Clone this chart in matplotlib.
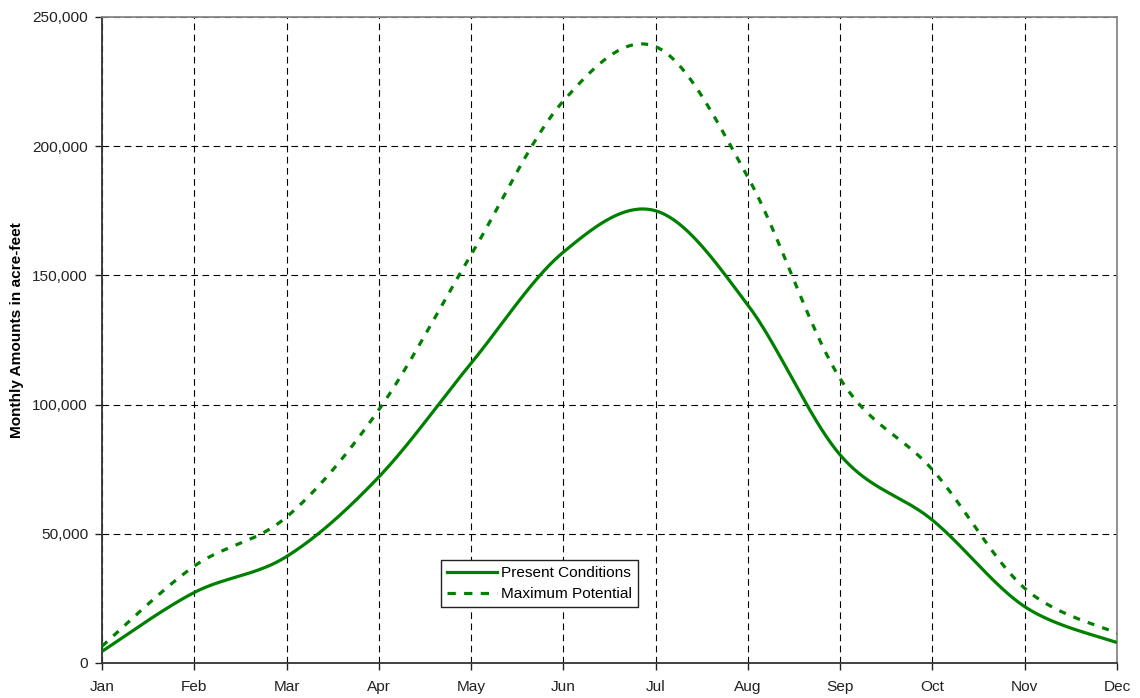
import numpy as np
import matplotlib
matplotlib.use("Agg")
import matplotlib.pyplot as plt
from matplotlib.lines import Line2D

months = ["Jan", "Feb", "Mar", "Apr", "May", "Jun",
          "Jul", "Aug", "Sep", "Oct", "Nov", "Dec"]
present = [4500, 27300, 41200, 72000, 116000, 159000,
           175000, 138500, 80500, 55300, 21800, 7900]
maximum = [6500, 37500, 56500, 98000, 158000, 217500,
           238500, 188000, 110000, 74800, 28900, 11500]

plt.rcParams['font.family'] = ['Liberation Sans', 'DejaVu Sans']
GREEN = "#008000"
FS = 11.1


def smooth(xs, ys, n=40):
    """Bezier smoothing through the points (Excel-like 'smoothed line')."""
    xs = np.asarray(xs, float)
    ys = np.asarray(ys, float)
    P = np.column_stack([xs, ys])
    ext = np.vstack([P[0], P, P[-1]])
    out = []
    t = np.linspace(0, 1, n)[:, None]
    for i in range(len(P) - 1):
        p0 = ext[i + 1]
        p3 = ext[i + 2]
        c1 = p0 + (ext[i + 2] - ext[i]) / 6.0
        c2 = p3 - (ext[i + 3] - ext[i + 1]) / 6.0
        seg = ((1 - t) ** 3) * p0 + 3 * ((1 - t) ** 2) * t * c1 \
            + 3 * (1 - t) * t ** 2 * c2 + t ** 3 * p3
        out.append(seg if i == 0 else seg[1:])
    seg = np.vstack(out)
    return seg[:, 0], seg[:, 1]


fig = plt.figure(figsize=(11.4, 6.98), dpi=100)
ax = fig.add_axes([102 / 1140, 1 - 663 / 698, 1015 / 1140, 646 / 698])

x = np.arange(len(months))
sx, sy = smooth(x, present)
ax.plot(sx, sy, color=GREEN, lw=2.3, solid_capstyle='butt', zorder=3)
mx, my = smooth(x, maximum)
ax.plot(mx, my, color=GREEN, lw=2.3, linestyle=(0, (2.2, 2.6)),
        dash_capstyle='butt', zorder=3)

ax.set_xlim(0, len(months) - 1)
ax.set_ylim(0, 250000)
ax.set_xticks(x)
ax.set_xticklabels(months)
ax.set_yticks(np.arange(0, 250001, 50000))
ax.yaxis.set_major_formatter(matplotlib.ticker.FuncFormatter(lambda v, p: f"{int(v):,}"))

ax.grid(True, color="black", linestyle=(0, (6, 4)), lw=0.8)
ax.set_axisbelow(True)

ax.tick_params(axis='both', direction='out', length=5, width=1,
               labelsize=FS, colors="#222222", pad=5)
ax.tick_params(axis='x', pad=7)

for s in ['left', 'bottom']:
    ax.spines[s].set_color("#333333")
    ax.spines[s].set_linewidth(1.3)
for s in ['top', 'right']:
    ax.spines[s].set_color("#888888")
    ax.spines[s].set_linewidth(1.3)

ax.set_ylabel("Monthly Amounts in acre-feet", fontsize=FS,
              fontweight='bold')
ax.yaxis.set_label_coords(-0.077, 0.515)

handles = [Line2D([], [], color=GREEN, lw=2.3),
           Line2D([], [], color=GREEN, lw=2.3, linestyle=(0, (2.6, 2.6)),
                  dash_capstyle='butt')]
leg = ax.legend(handles, ["Present Conditions", "Maximum Potential"],
                loc='upper left', bbox_to_anchor=(0.334, 0.1595),
                fontsize=FS, frameon=True, fancybox=False,
                edgecolor="#222222", framealpha=1, handlelength=3.2,
                handletextpad=0.3, borderpad=0.4, labelspacing=0.45,
                borderaxespad=0)
leg.get_frame().set_linewidth(1.0)

fig.savefig("out.png", dpi=100)
